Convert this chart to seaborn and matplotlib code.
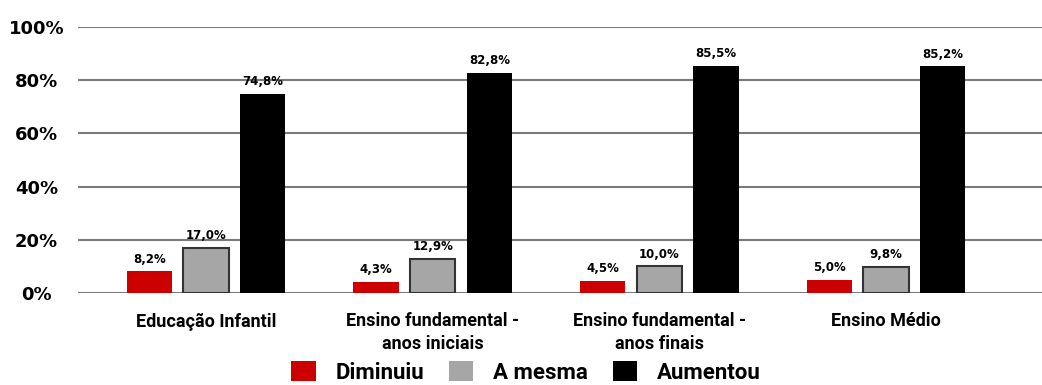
import matplotlib
matplotlib.use("Agg")
import matplotlib.pyplot as plt
import seaborn as sns
import pandas as pd

categories = ["Educação Infantil", "Ensino fundamental -\nanos iniciais",
              "Ensino fundamental -\nanos finais", "Ensino Médio"]
series = ["Diminuiu", "A mesma", "Aumentou"]
diminuiu = [8.2, 4.3, 4.5, 5.0]
a_mesma = [17.0, 12.9, 10.0, 9.8]
aumentou = [74.8, 82.8, 85.5, 85.2]
colors = ["#CC0000", "#A6A6A6", "#000000"]
yticks = [0, 20, 40, 60, 80, 100]
ytick_labels = ["0%", "20%", "40%", "60%", "80%", "100%"]

rows = []
for s, vals in zip(series, [diminuiu, a_mesma, aumentou]):
    for c, v in zip(categories, vals):
        rows.append({"cat": c, "serie": s, "val": v})
df = pd.DataFrame(rows)

sns.set_theme(style="white")
plt.rcParams["font.family"] = ["DejaVu Sans"]
plt.rcParams["text.color"] = "black"
plt.rcParams["xtick.color"] = "black"
plt.rcParams["ytick.color"] = "black"

fig = plt.figure(figsize=(10.42, 3.85), dpi=100)
ax = fig.add_axes([0.0749, 0.239, 0.9251, 0.691])

sns.barplot(data=df, x="cat", y="val", hue="serie", order=categories,
            hue_order=series, palette=colors, width=0.75, gap=0.2,
            saturation=1, edgecolor="none", linewidth=0, ax=ax, zorder=3)

for patch in ax.containers[1]:
    patch.set_edgecolor("#333333")
    patch.set_linewidth(1.5)

for cont in ax.containers:
    labels = [f"{b.get_height():.1f}%".replace(".", ",") for b in cont]
    ax.bar_label(cont, labels=labels, padding=4, fontsize=8.5,
                 fontweight="bold", color="black")

ax.set_ylim(0, 100)
ax.set_xlim(-0.565, 3.688)
ax.set_yticks(yticks)
ax.set_yticklabels(ytick_labels, fontsize=13, fontweight="bold", color="black")
for lab in ax.get_yticklabels():
    lab.set_horizontalalignment("center")
ax.tick_params(axis="y", length=0, pad=30)
ax.tick_params(axis="x", length=0, pad=14)
for lab in ax.get_xticklabels():
    lab.set_family(["Roboto", "DejaVu Sans"])
    lab.set_fontweight("bold")
    lab.set_fontsize(13)
    lab.set_linespacing(1.35)
    lab.set_color("black")
ax.grid(axis="y", color="#7a7a7a", linewidth=1.5, zorder=0)
ax.set_axisbelow(True)
ax.set_xlabel("")
ax.set_ylabel("")
for sp in ax.spines.values():
    sp.set_visible(False)

handles, labs = ax.get_legend_handles_labels()
ax.get_legend().remove()
fig.legend(handles, labs, loc="center", bbox_to_anchor=(0.505, 0.032), ncol=3,
           frameon=False, handlelength=1.1, handleheight=1.0, columnspacing=1.1,
           handletextpad=0.9, borderpad=0.1,
           prop={"family": ["Roboto", "DejaVu Sans"], "weight": "bold", "size": 16})

fig.savefig("out.png", dpi=100)
